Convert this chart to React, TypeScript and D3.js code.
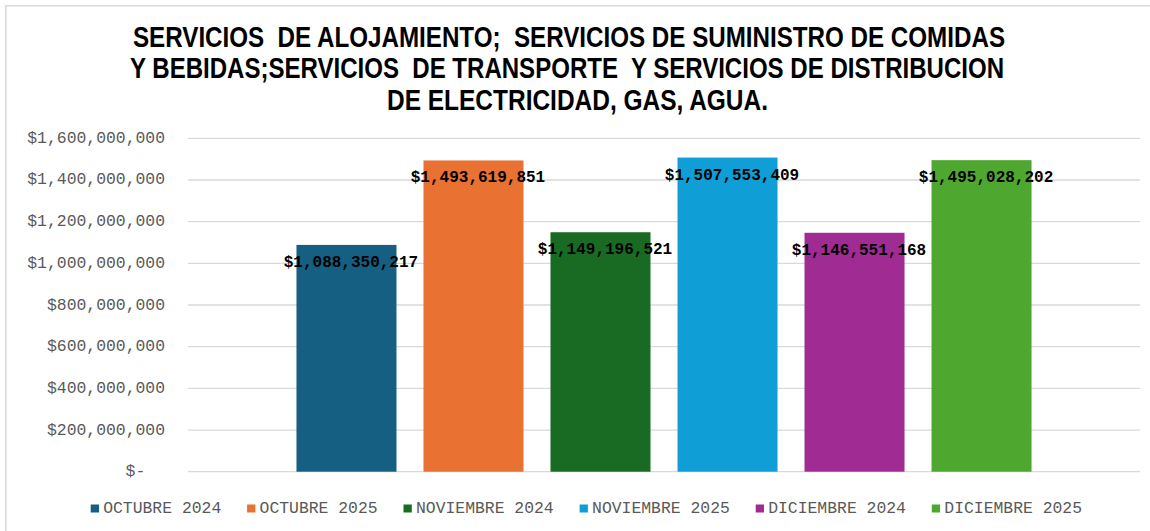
import React from 'react';
import * as d3 from 'd3';

const titleLines = [
  'SERVICIOS  DE ALOJAMIENTO;  SERVICIOS DE SUMINISTRO DE COMIDAS',
  'Y BEBIDAS;SERVICIOS  DE TRANSPORTE  Y SERVICIOS DE DISTRIBUCION',
  'DE ELECTRICIDAD, GAS, AGUA.',
];
const series = [
  'OCTUBRE 2024',
  'OCTUBRE 2025',
  'NOVIEMBRE 2024',
  'NOVIEMBRE 2025',
  'DICIEMBRE 2024',
  'DICIEMBRE 2025',
];
const values = [1088350217, 1493619851, 1149196521, 1507553409, 1146551168, 1495028202];
const colors = ['#156082', '#E97132', '#196B24', '#0F9ED5', '#A02B93', '#4EA72E'];
const yTicks = [0, 200000000, 400000000, 600000000, 800000000, 1000000000, 1200000000, 1400000000, 1600000000];

const W = 1150;
const H = 531;
const plot = { left: 188, right: 1140, top: 138.3, bottom: 471.7 };
const mono = '"Liberation Mono", "Courier New", monospace';
const monoAdv = 9.85; // px per char at 16.4px

// title line extents as measured on the picture
const titleCenters = [569, 567, 577.5];
const titleWidths = [872, 874, 381];

const App: React.FC = () => {
  const y = d3.scaleLinear().domain([0, 1600000000]).range([plot.bottom, plot.top]);
  const x = d3.scaleBand<string>()
    .domain(series)
    .range([plot.left, plot.right])
    .paddingInner(0.2126)
    .paddingOuter(0.854);
  const fmt = d3.format('$,');

  // legend layout
  let lx = 90.7;
  const legendItems = series.map((s, i) => {
    const item = { s, x: lx, color: colors[i] };
    lx += 12.5 + s.length * monoAdv + 25.7;
    return item;
  });

  return (
    <svg width={W} height={H} style={{ position: 'absolute', left: 0, top: 0, background: '#fff' }}>
      <rect x={0} y={0} width={W} height={H} fill="#fff" />
      {/* chart area border (clipped on the right/bottom in the reference) */}
      <path d={`M5.8,${H + 2} L5.8,5.8 L${W + 2},5.8`} fill="none" stroke="#d9d9d9" strokeWidth={1.6} />

      {/* title */}
      {titleLines.map((t, i) => {
        const by = 46.5 + i * 31.5;
        return (
          <text
            key={i}
            transform={`translate(${titleCenters[i] - titleWidths[i] / 2},${by}) scale(1,1.2)`}
            x={0}
            y={0}
            textLength={titleWidths[i]}
            lengthAdjust="spacingAndGlyphs"
            fontFamily='"Liberation Sans", Arial, sans-serif'
            fontWeight="bold"
            fontSize={24.5}
            fill="#000"
            style={{ whiteSpace: 'pre' }}
          >
            {t}
          </text>
        );
      })}

      {/* gridlines */}
      {yTicks.map(t => (
        <line key={t} x1={plot.left} x2={plot.right} y1={y(t)} y2={y(t)} stroke="#d9d9d9" strokeWidth={1.3} />
      ))}

      {/* y axis labels */}
      {yTicks.map(t => (
        <text
          key={t}
          x={t === 0 ? 165 - 2 * monoAdv : 165}
          y={y(t)}
          textAnchor="end"
          dominantBaseline="central"
          fontFamily={mono}
          fontSize={16.4}
          fill="#595959"
        >
          {t === 0 ? '$-' : fmt(t)}
        </text>
      ))}

      {/* bars */}
      {series.map((s, i) => (
        <rect
          key={s}
          x={x(s)}
          y={y(values[i])}
          width={x.bandwidth()}
          height={y(0) - y(values[i])}
          fill={colors[i]}
        />
      ))}

      {/* data labels */}
      {series.map((s, i) => (
        <text
          key={s}
          x={(x(s) || 0) + x.bandwidth() / 2 + 4.5}
          y={y(values[i]) + 18}
          textAnchor="middle"
          dominantBaseline="central"
          fontFamily={mono}
          fontWeight="bold"
          fontSize={16}
          fill="#000"
        >
          {fmt(values[i])}
        </text>
      ))}

      {/* legend */}
      {legendItems.map(it => (
        <g key={it.s}>
          <rect x={it.x} y={504.5} width={8.3} height={8} fill={it.color} />
          <text
            x={it.x + 12.5}
            y={508.5}
            dominantBaseline="central"
            fontFamily={mono}
            fontSize={16.4}
            fill="#595959"
          >
            {it.s}
          </text>
        </g>
      ))}
    </svg>
  );
};

export default App;
